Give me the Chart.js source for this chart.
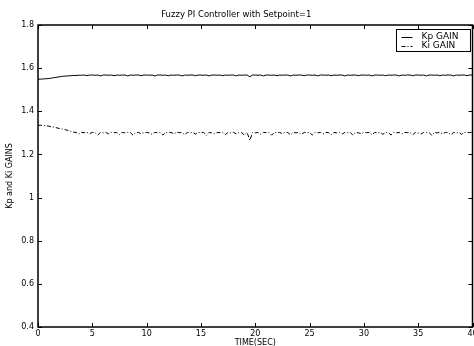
<!DOCTYPE html>
<html lang="en">
<head>
<meta charset="UTF-8">
<title>Fuzzy PI Controller with Setpoint=1</title>
<script src="https://cdn.jsdelivr.net/npm/chart.js"></script>
<style>
  html, body { margin: 0; padding: 0; background: #fff; }
  #grafico { display: block; }
</style>
</head>
<body>
<canvas id="grafico" width="474" height="346"></canvas>
<script>
// time axis, 0.25 s steps (0 .. 40)
const tempo = [];
for (let i = 0; i <= 160; i++) tempo.push(i * 0.25);

const kpGain = [
  1.549, 1.549, 1.550, 1.551, 1.552, 1.554, 1.556, 1.558, 1.560, 1.562,
  1.563, 1.564, 1.565, 1.566, 1.566, 1.567, 1.567, 1.568, 1.565, 1.568,
  1.568, 1.567, 1.568, 1.564, 1.568, 1.568, 1.567, 1.568, 1.565, 1.568,
  1.567, 1.568, 1.568, 1.564, 1.568, 1.567, 1.568, 1.568, 1.565, 1.568,
  1.568, 1.567, 1.568, 1.564, 1.568, 1.568, 1.567, 1.568, 1.565, 1.568,
  1.567, 1.568, 1.568, 1.564, 1.568, 1.567, 1.568, 1.568, 1.565, 1.568,
  1.568, 1.567, 1.568, 1.564, 1.568, 1.568, 1.567, 1.568, 1.565, 1.568,
  1.567, 1.568, 1.568, 1.564, 1.568, 1.567, 1.568, 1.568, 1.560, 1.568,
  1.568, 1.567, 1.568, 1.564, 1.568, 1.568, 1.567, 1.568, 1.565, 1.568,
  1.567, 1.568, 1.568, 1.564, 1.568, 1.567, 1.568, 1.568, 1.565, 1.568,
  1.568, 1.567, 1.568, 1.564, 1.568, 1.568, 1.567, 1.568, 1.565, 1.568,
  1.567, 1.568, 1.568, 1.564, 1.568, 1.567, 1.568, 1.568, 1.565, 1.568,
  1.568, 1.567, 1.568, 1.564, 1.568, 1.568, 1.567, 1.568, 1.565, 1.568,
  1.567, 1.568, 1.568, 1.564, 1.568, 1.567, 1.568, 1.568, 1.565, 1.568,
  1.568, 1.567, 1.568, 1.564, 1.568, 1.568, 1.567, 1.568, 1.565, 1.568,
  1.567, 1.568, 1.568, 1.564, 1.568, 1.567, 1.568, 1.568, 1.565, 1.568,
  1.568
];

const kiGain = [
  1.335, 1.335, 1.334, 1.333, 1.331, 1.328, 1.326, 1.323, 1.320, 1.318,
  1.315, 1.311, 1.307, 1.303, 1.302, 1.294, 1.302, 1.301, 1.302, 1.296,
  1.302, 1.301, 1.290, 1.302, 1.300, 1.302, 1.295, 1.302, 1.301, 1.302,
  1.292, 1.302, 1.300, 1.302, 1.301, 1.289, 1.302, 1.302, 1.296, 1.301,
  1.302, 1.300, 1.293, 1.302, 1.301, 1.302, 1.290, 1.302, 1.300, 1.302,
  1.295, 1.302, 1.301, 1.302, 1.291, 1.302, 1.300, 1.302, 1.294, 1.302,
  1.301, 1.302, 1.288, 1.302, 1.300, 1.296, 1.302, 1.301, 1.302, 1.292,
  1.302, 1.300, 1.302, 1.295, 1.302, 1.301, 1.290, 1.302, 1.265, 1.302,
  1.300, 1.302, 1.294, 1.302, 1.301, 1.302, 1.289, 1.302, 1.300, 1.302,
  1.296, 1.302, 1.301, 1.291, 1.302, 1.300, 1.302, 1.293, 1.302, 1.301,
  1.302, 1.290, 1.302, 1.300, 1.302, 1.295, 1.302, 1.301, 1.292, 1.302,
  1.300, 1.302, 1.294, 1.302, 1.301, 1.302, 1.289, 1.302, 1.300, 1.296,
  1.302, 1.301, 1.302, 1.291, 1.302, 1.300, 1.302, 1.293, 1.302, 1.301,
  1.290, 1.302, 1.300, 1.302, 1.295, 1.302, 1.301, 1.302, 1.292, 1.302,
  1.300, 1.294, 1.302, 1.301, 1.302, 1.288, 1.302, 1.300, 1.302, 1.295,
  1.302, 1.301, 1.291, 1.302, 1.300, 1.302, 1.293, 1.302, 1.301, 1.302,
  1.302
];

const legendas = ['Kp GAIN', 'Ki GAIN'];
const titulo = 'Fuzzy PI Controller with Setpoint=1';
const tituloX = 'TIME(SEC)';
const tituloY = 'Kp and Ki GAINS';

const fonte = 'DejaVu Sans, Arial, sans-serif';

function pares(ys) {
  return tempo.map((t, i) => ({ x: t, y: ys[i] }));
}

// frame, inward ticks and the boxed legend, MATLAB style
const moldura = {
  id: 'moldura',
  afterDraw(chart) {
    const ctx = chart.ctx;
    const a = chart.chartArea;
    const sx = chart.scales.x, sy = chart.scales.y;
    ctx.save();
    ctx.strokeStyle = '#000';
    ctx.lineWidth = 1;
    ctx.beginPath();
    sx.ticks.forEach(t => {
      const px = Math.round(sx.getPixelForValue(t.value)) + 0.5;
      ctx.moveTo(px, a.bottom); ctx.lineTo(px, a.bottom - 4);
      ctx.moveTo(px, a.top); ctx.lineTo(px, a.top + 4);
    });
    sy.ticks.forEach(t => {
      const py = Math.round(sy.getPixelForValue(t.value)) + 0.5;
      ctx.moveTo(a.left, py); ctx.lineTo(a.left + 4, py);
      ctx.moveTo(a.right, py); ctx.lineTo(a.right - 4, py);
    });
    ctx.stroke();
    ctx.lineWidth = 1.5;
    ctx.strokeRect(a.left, a.top, a.right - a.left, a.bottom - a.top);

    // legend
    const lx = 396.5, ly = 29.5, lw = 74, lh = 22;
    ctx.fillStyle = '#fff';
    ctx.fillRect(lx, ly, lw, lh);
    ctx.lineWidth = 1;
    ctx.strokeRect(lx, ly, lw, lh);
    ctx.font = '9px ' + fonte;
    ctx.fillStyle = '#000';
    ctx.textBaseline = 'middle';
    chart.data.datasets.forEach((ds, i) => {
      const y = ly + 7 + i * 9;
      ctx.setLineDash(ds.borderDash || []);
      ctx.beginPath();
      ctx.moveTo(lx + 5, Math.round(y) + 0.5);
      ctx.lineTo(lx + 16, Math.round(y) + 0.5);
      ctx.stroke();
      ctx.setLineDash([]);
      ctx.fillText(ds.label, lx + 25, y + 0.5);
    });
    ctx.restore();
  }
};

new Chart(document.getElementById('grafico'), {
  type: 'line',
  data: {
    datasets: [
      {
        label: legendas[0],
        data: pares(kpGain),
        borderColor: '#000',
        borderWidth: 1,
        pointRadius: 0,
        tension: 0
      },
      {
        label: legendas[1],
        data: pares(kiGain),
        borderColor: '#000',
        borderWidth: 1,
        borderDash: [4, 2, 1, 2],
        pointRadius: 0,
        tension: 0
      }
    ]
  },
  options: {
    responsive: false,
    animation: false,
    layout: { autoPadding: false, padding: { left: 0, right: 1.5, top: 0, bottom: 0 } },
    plugins: {
      legend: { display: false },
      tooltip: { enabled: false },
      title: {
        display: true,
        text: titulo,
        color: '#000',
        font: { family: fonte, size: 8.5, weight: 'normal' },
        padding: { top: 10, bottom: 4.8 }
      }
    },
    scales: {
      x: {
        type: 'linear',
        min: 0,
        max: 40,
        afterFit: s => { s.height = 19; s.paddingLeft = 0; s.paddingRight = 0; },
        grid: { display: false, drawTicks: false },
        border: { display: false },
        ticks: {
          stepSize: 5,
          color: '#000',
          padding: 2,
          maxRotation: 0,
          font: { family: fonte, size: 8 }
        },
        title: {
          display: true,
          text: tituloX,
          color: '#000',
          padding: { top: 0, bottom: -2 },
          font: { family: fonte, size: 8 }
        }
      },
      y: {
        min: 0.4,
        max: 1.8,
        afterFit: s => { s.width = 38; s.paddingTop = 0; s.paddingBottom = 0; },
        grid: { display: false, drawTicks: false },
        border: { display: false },
        ticks: {
          stepSize: 0.2,
          color: '#000',
          padding: 4,
          font: { family: fonte, size: 8 },
          callback: v => String(+v.toFixed(1))
        },
        title: {
          display: true,
          text: tituloY,
          color: '#000',
          padding: { top: 5, bottom: 0 },
          font: { family: fonte, size: 8 }
        }
      }
    }
  },
  plugins: [moldura]
});
</script>
</body>
</html>
